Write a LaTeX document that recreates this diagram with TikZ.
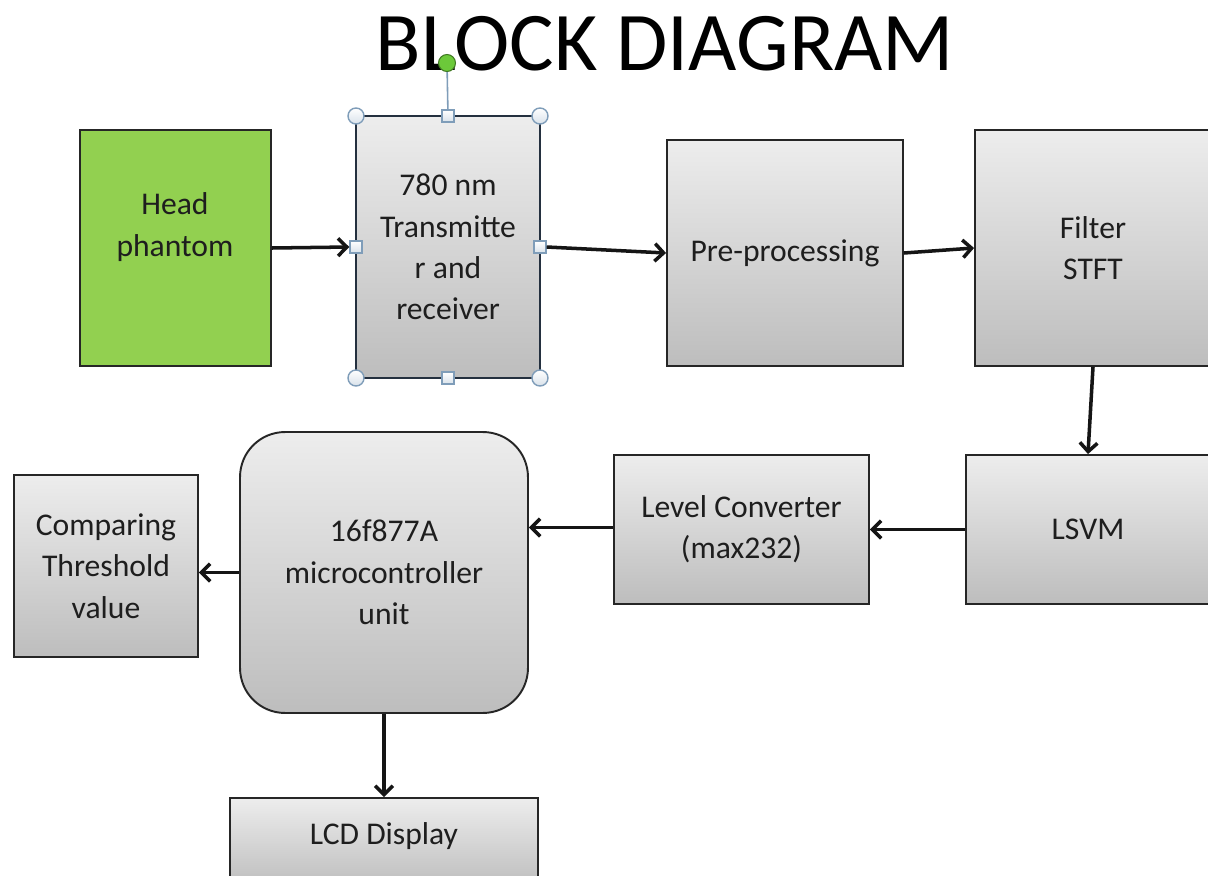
\documentclass[tikz,border=0pt]{standalone}
\usepackage{fontspec}
\setmainfont{Carlito}
\usetikzlibrary{arrows.meta}
\definecolor{grtop}{HTML}{EDEDED}
\definecolor{grbot}{HTML}{BDBDBD}
\definecolor{bordc}{HTML}{262626}
\definecolor{txtc}{HTML}{1E1E1E}
\definecolor{arrc}{HTML}{151515}
\definecolor{headg}{HTML}{92D050}
\definecolor{selc}{HTML}{7F9DB9}
\definecolor{handg}{HTML}{6CC93A}
\definecolor{txbord}{HTML}{24303F}
\begin{document}
\begin{tikzpicture}[x=0.02cm,y=-0.02cm,
  blk/.style={draw=bordc, line width=1.1pt, top color=grtop, bottom color=grbot, inner sep=0pt,
    align=center, font=\fontsize{18}{23.5}\selectfont, text=txtc},
  txt/.style={align=center, font=\fontsize{18}{23.5}\selectfont, text=txtc, inner sep=0pt},
  arr/.style={line width=2pt, draw=arrc, -{Straight Barb[length=5pt,width=10pt]}},
  hcirc/.style={circle, draw=selc, line width=0.8pt, top color=white, bottom color=selc!30, minimum size=0.32cm, inner sep=0pt},
  hsq/.style={rectangle, draw=selc, line width=0.8pt, top color=white, bottom color=selc!30, minimum size=0.24cm, inner sep=0pt}]
\useasboundingbox (0,0) rectangle (1208,876);
\clip (0,0) rectangle (1208,876);
\fill[white] (0,0) rectangle (1208,876);

% title
\node[anchor=base, font=\fontsize{47.5}{50}\selectfont, text=black, inner sep=0pt] (title) at (665,70) {BLOCK DIAGRAM};

% blocks
\node[draw=bordc, line width=1.1pt, fill=headg, minimum width=3.82cm, minimum height=4.72cm, inner sep=0pt] (head) at (175.5,248) {};
\node[txt] (headt) at (175,227) {Head\\phantom};

\node[blk, draw=txbord, line width=1.5pt, minimum width=3.68cm, minimum height=5.24cm] (tx) at (448,247) {780 nm\\Transmitte\\r and\\receiver};

\node[blk, minimum width=4.72cm, minimum height=4.52cm] (pre) at (785,253) {Pre-processing};
\node[blk, minimum width=4.72cm, minimum height=4.72cm] (filt) at (1093,248) {Filter\\STFT};
\node[blk, minimum width=4.88cm, minimum height=2.98cm] (lsvm) at (1088,529.5) {LSVM};
\node[blk, minimum width=5.1cm, minimum height=2.98cm] (lvl) at (741.5,529.5) {Level Converter\\(max232)};
\node[blk, rounded corners=0.9cm, minimum width=5.76cm, minimum height=5.62cm] (mcu) at (384,572.5) {16f877A\\microcontroller\\unit};
\node[blk, minimum width=3.68cm, minimum height=3.64cm] (cmp) at (106,566) {Comparing\\Threshold\\value};
\node[blk, minimum width=6.16cm, minimum height=1.8cm] (lcd) at (384,843) {};
\node[txt] (lcdt) at (384,836) {LCD Display};

% selection handles on transmitter
\node[circle, draw=handg!60!black, line width=0.6pt, fill=handg, minimum size=0.34cm, inner sep=0pt] (rot) at (447,63) {};
\node[hsq] (hN) at (448,116) {};
\draw[selc, line width=0.9pt] (rot) -- (hN);
\node[hsq] (hS) at (448,378) {};
\node[hsq] (hW) at (356,247) {};
\node[hsq] (hE) at (540,247) {};
\node[hcirc] (hNW) at (356,116) {};
\node[hcirc] (hNE) at (540,116) {};
\node[hcirc] (hSW) at (356,378) {};
\node[hcirc] (hSE) at (540,378) {};

% connectors
\draw[arr] (head.east) -- (hW.west);
\draw[arr] (hE.east) -- (pre.west);
\draw[arr] (pre.east) -- (filt.west);
\draw[arr] (filt.south) -- (lsvm.north);
\draw[arr] (lsvm.west) -- (lvl.east);
\draw[arr] ([yshift=0.04cm]lvl.west) -- ([yshift=0.04cm]lvl.west -| mcu.east);
\draw[arr] (mcu.west) -- (mcu.west -| cmp.east);
\draw[arr] (mcu.south) -- (lcd.north);
\end{tikzpicture}
\end{document}
